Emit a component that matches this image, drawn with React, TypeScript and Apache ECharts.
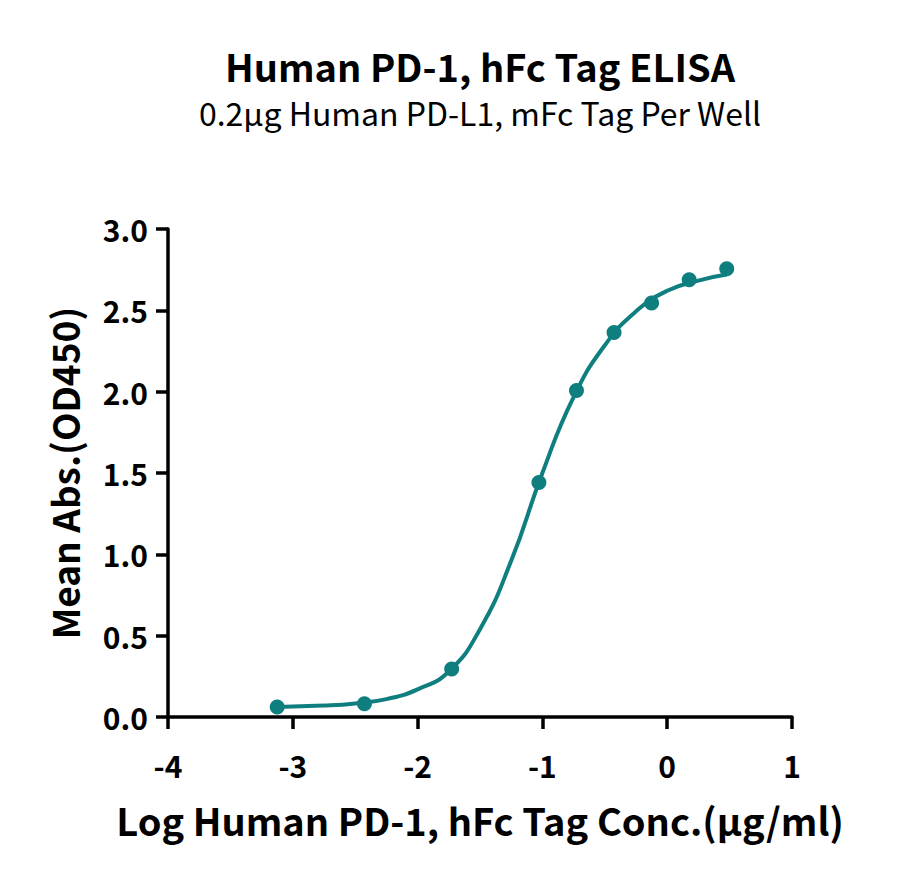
import React, { useEffect, useRef } from 'react';
import * as echarts from 'echarts';

// log10 concentration (µg/ml) of each well, and its mean OD450
const logConc = [-3.125, -2.426, -1.727, -1.028, -0.727, -0.426, -0.125, 0.176, 0.477];
const meanAbs = [0.061, 0.082, 0.295, 1.442, 2.007, 2.364, 2.545, 2.688, 2.755];

// fitted curve
const fitX = [-3.125, -2.75, -2.5, -2.25, -2.0, -1.75, -1.5, -1.25, -1.0, -0.75, -0.5, -0.25, 0, 0.25, 0.477];
const fitY = [0.062, 0.07, 0.083, 0.11, 0.17, 0.28, 0.54, 0.96, 1.5, 1.967, 2.285, 2.494, 2.62, 2.683, 2.72];

const xTicks = [-4, -3, -2, -1, 0, 1];
const yTicks = [0, 0.5, 1, 1.5, 2, 2.5, 3];

const titleText = 'Human PD-1, hFc Tag ELISA';
const subTitleText = '0.2µg Human PD-L1, mFc Tag Per Well';
const xName = 'Log Human PD-1, hFc Tag Conc.(µg/ml)';
const yName = 'Mean Abs.(OD450)';

const TEAL = '#0f7e7e';
const FONT = '"Noto Sans CJK SC", "Noto Sans", sans-serif';

export default function App() {
  const chartRef = useRef<HTMLDivElement>(null);

  useEffect(() => {
    if (!chartRef.current) return;
    document.body.style.margin = '0';
    const chart = echarts.init(chartRef.current, null, { renderer: 'svg' });

    const axisCommon = {
      axisLine: { show: true, onZero: false, lineStyle: { color: '#000', width: 3.5 } },
      axisTick: { show: true, length: 12, lineStyle: { color: '#000', width: 3.5 } },
      splitLine: { show: false },
      axisLabel: { color: '#000', fontSize: 30, fontWeight: 'bold', fontFamily: FONT },
      nameLocation: 'middle',
      nameTextStyle: { color: '#000', fontSize: 38, fontWeight: 'bold', fontFamily: FONT },
    };

    const option = {
      animation: false,
      backgroundColor: '#fff',
      textStyle: { fontFamily: FONT },
      graphic: [
        {
          type: 'text',
          x: 480,
          y: 65,
          style: {
            text: titleText,
            align: 'center',
            verticalAlign: 'middle',
            fill: '#000',
            font: `bold 38px ${FONT}`,
          },
        },
        {
          type: 'text',
          x: 480,
          y: 112,
          style: {
            text: subTitleText,
            align: 'center',
            verticalAlign: 'middle',
            fill: '#000',
            font: `32px ${FONT}`,
          },
        },
      ],
      grid: { left: 168, right: 108, top: 229, bottom: 163, containLabel: false },
      xAxis: {
        ...axisCommon,
        type: 'value',
        min: xTicks[0],
        max: xTicks[xTicks.length - 1],
        interval: 1,
        name: xName,
        nameGap: 83,
        axisLabel: { ...axisCommon.axisLabel, margin: 33 },
      },
      yAxis: {
        ...axisCommon,
        type: 'value',
        min: yTicks[0],
        max: yTicks[yTicks.length - 1],
        interval: 0.5,
        name: yName,
        nameGap: 86,
        nameTextStyle: { ...axisCommon.nameTextStyle, fontSize: 37 },
        axisLabel: {
          ...axisCommon.axisLabel,
          margin: 20,
          formatter: (v: number) => v.toFixed(1),
        },
      },
      series: [
        {
          type: 'line',
          data: fitX.map((x, i) => [x, fitY[i]]),
          smooth: 0.5,
          showSymbol: false,
          symbol: 'none',
          lineStyle: { color: TEAL, width: 4 },
          z: 2,
        },
        {
          type: 'scatter',
          data: logConc.map((x, i) => [x, meanAbs[i]]),
          symbol: 'circle',
          symbolSize: 15,
          itemStyle: { color: TEAL, opacity: 1 },
          z: 3,
        },
      ],
    } as any;

    chart.setOption(option);

    return () => {
      chart.dispose();
    };
  }, []);

  return <div ref={chartRef} style={{ width: 900, height: 880 }} />;
}
